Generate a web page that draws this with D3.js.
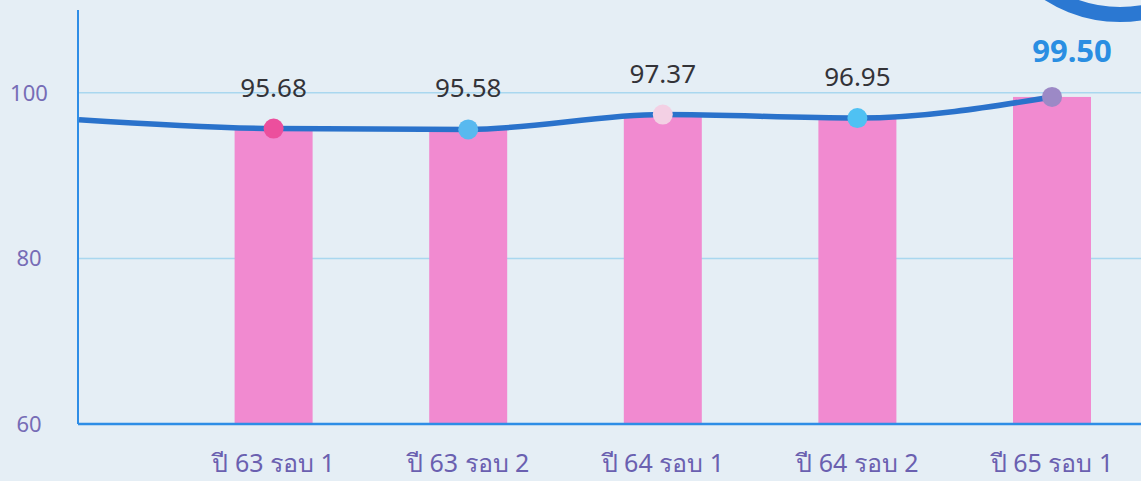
<!DOCTYPE html>
<html>
<head>
<meta charset="utf-8">
<script src="https://cdn.jsdelivr.net/npm/d3@7"></script>
<style>
    body { margin: 0; background: #e6eff5; }
    svg { display: block; }
</style>
</head>
<body>
<div id="chart"></div>
<script>
// DATA
const categories = ["ปี 63 รอบ 1", "ปี 63 รอบ 2", "ปี 64 รอบ 1", "ปี 64 รอบ 2", "ปี 65 รอบ 1"];
const values = [95.68, 95.58, 97.37, 96.95, 99.50];
// line comes in from the round before, which sits on the axis
const leadValue = 96.75;
const yTicks = [60, 80, 100];
const dotColors = ["#ec4f9d", "#58b9ef", "#f3d0e4", "#4fc1f3", "#9c89c6"];

// CONSTANTS
const width = 1141,
    height = 481,
    margin = { top: 10, bottom: 57, left: 78, right: 0 };

const svg = d3.select("#chart")
    .append("svg")
    .attr("width", width)
    .attr("height", height);

svg.append("rect")
    .attr("width", width)
    .attr("height", height)
    .attr("fill", "#e5eef5");

// SCALES
const xScale = d3.scaleLinear()
    .domain([-1, categories.length - 1])
    .range([79, 1052]);

const yScale = d3.scaleLinear()
    .domain([60, 110])
    .range([height - margin.bottom, margin.top]);

const barWidth = 78;

// decoration ring top right
svg.append("circle")
    .attr("cx", 1120)
    .attr("cy", -118)
    .attr("r", 132.5)
    .attr("fill", "none")
    .attr("stroke", "#2b78d2")
    .attr("stroke-width", 15);

// grid lines
svg.append("g")
    .selectAll("line")
    .data(yTicks.filter(d => d > 60))
    .join("line")
    .attr("x1", margin.left)
    .attr("x2", width)
    .attr("y1", d => yScale(d))
    .attr("y2", d => yScale(d))
    .attr("stroke", "#a9d7ef")
    .attr("stroke-width", 1.5);

// y labels
svg.append("g")
    .selectAll("text")
    .data(yTicks)
    .join("text")
    .attr("x", 29)
    .attr("y", d => yScale(d))
    .attr("dy", "0.35em")
    .attr("text-anchor", "middle")
    .attr("font-family", "'Noto Sans', sans-serif")
    .attr("font-size", 22)
    .attr("fill", "#766cb6")
    .text(d => d);

// bars
svg.append("g")
    .selectAll("rect")
    .data(values)
    .join("rect")
    .attr("x", (d, i) => xScale(i) - barWidth / 2)
    .attr("y", d => yScale(d))
    .attr("width", barWidth)
    .attr("height", d => yScale(60) - yScale(d))
    .attr("fill", "#f18ad0");

// axes
svg.append("line")
    .attr("x1", margin.left).attr("x2", margin.left)
    .attr("y1", margin.top).attr("y2", yScale(60))
    .attr("stroke", "#2e8de6")
    .attr("stroke-width", 2);
svg.append("line")
    .attr("x1", margin.left).attr("x2", width)
    .attr("y1", yScale(60)).attr("y2", yScale(60))
    .attr("stroke", "#2e8de6")
    .attr("stroke-width", 2.5);

// line
const linePoints = [leadValue].concat(values).map((v, i) => [xScale(i - 1), yScale(v)]);
const line = d3.line().curve(d3.curveMonotoneX);
svg.append("path")
    .attr("d", line(linePoints))
    .attr("fill", "none")
    .attr("stroke", "#2a72cb")
    .attr("stroke-width", 5.5);

// dots
svg.append("g")
    .selectAll("circle")
    .data(values)
    .join("circle")
    .attr("cx", (d, i) => xScale(i))
    .attr("cy", d => yScale(d))
    .attr("r", 10)
    .attr("fill", (d, i) => dotColors[i]);

// value labels
svg.append("g")
    .selectAll("text")
    .data(values)
    .join("text")
    .attr("x", (d, i) => xScale(i) + (i === values.length - 1 ? 20 : 0))
    .attr("y", (d, i) => yScale(d) - (i === values.length - 1 ? 35 : 32))
    .attr("text-anchor", "middle")
    .attr("font-family", "'Noto Sans', sans-serif")
    .attr("font-size", (d, i) => i === values.length - 1 ? 31 : 26)
    .attr("font-weight", (d, i) => i === values.length - 1 ? "bold" : "normal")
    .attr("fill", (d, i) => i === values.length - 1 ? "#2a8ee2" : "#333338")
    .text(d => d.toFixed(2));

// x labels
svg.append("g")
    .selectAll("text")
    .data(categories)
    .join("text")
    .attr("x", (d, i) => xScale(i))
    .attr("y", 472)
    .attr("text-anchor", "middle")
    .attr("font-family", "'Noto Sans', sans-serif")
    .attr("font-size", 25)
    .attr("fill", "#6a60b0")
    .text(d => d);
</script>
</body>
</html>
